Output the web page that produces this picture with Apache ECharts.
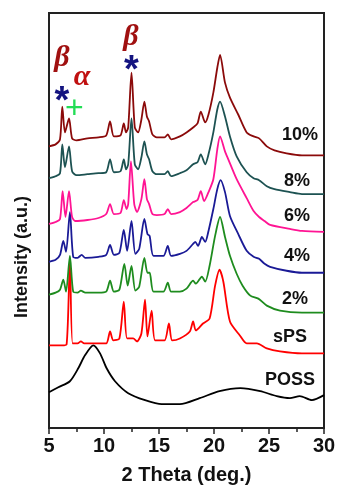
<!DOCTYPE html>
<html>
<head>
<meta charset="utf-8">
<script src="https://cdn.jsdelivr.net/npm/echarts@6/dist/echarts.min.js"></script>
<style>
  html, body { margin: 0; padding: 0; background: #fff; }
  #chart { width: 339px; height: 490px; }
</style>
</head>
<body>
<div id="chart"></div>
<script>
// sample names, colours, and where their labels sit (2θ, intensity)
const samples = ['POSS', 'sPS', '2%', '4%', '6%', '8%', '10%'];
const colors = ['#000000', '#ff0000', '#1e8c1e', '#1a1a96', '#ff1493', '#1d5252', '#8b0a0a'];
const labelPos = [[26.9, 48], [26.9, 91], [27.36, 130], [27.55, 173], [27.55, 213], [27.55, 248], [27.82, 294]];

// XRD patterns, [2θ, intensity (a.u., stacked)]
const poss = [
  [5.0, 36], [5.85, 41], [6.9, 47], [7.66, 60], [8.27, 73], [9.03, 83], [9.64, 75], [10.24, 60],
  [11.0, 47], [12.2, 35], [13.73, 28], [15.25, 24], [16.9, 24], [18.7, 30], [20.5, 37], [22.4, 40],
  [24.2, 37], [25.7, 32], [26.9, 30], [27.8, 32], [28.9, 28], [30, 33]
];
const sps = [
  [5.0, 83], [6.15, 83], [6.6, 84], [6.9, 168], [7.15, 85], [7.6, 85], [7.9, 87], [8.2, 85],
  [9.2, 85], [10.2, 85], [10.55, 97], [10.85, 88], [11.4, 90], [11.8, 127], [12.1, 90], [12.65, 90],
  [13.0, 87], [13.4, 95], [13.73, 129], [13.95, 92], [14.33, 118], [14.65, 88], [15.5, 88], [15.9, 105],
  [16.2, 88], [16.9, 90], [17.8, 97], [18.1, 107], [18.35, 98], [19.0, 105], [19.6, 110], [20.1, 143],
  [20.5, 159], [20.85, 147], [21.45, 107], [22.35, 93], [22.97, 85], [23.9, 85], [24.8, 80], [26.0, 77],
  [28, 75], [30, 75]
];
const p2 = [
  [5.0, 134], [5.6, 136], [6.0, 139], [6.3, 149], [6.55, 137], [6.9, 173], [7.2, 137], [7.6, 136],
  [7.9, 138], [8.3, 136], [9.5, 136], [10.2, 137], [10.55, 148], [10.9, 137], [11.4, 139], [11.85, 165],
  [12.15, 143], [12.5, 163], [12.85, 138], [13.2, 142], [13.67, 171], [13.95, 156], [14.15, 156], [14.5, 137],
  [15.4, 137], [15.8, 146], [16.1, 137], [16.9, 137], [17.5, 140], [18.1, 148], [18.35, 145], [18.9, 152],
  [19.2, 147], [19.6, 163], [20.1, 193], [20.55, 212], [21.0, 192], [21.45, 173], [22.06, 155], [22.6, 143],
  [23.3, 133], [24.03, 130], [24.8, 123], [26.0, 118], [28, 116], [30, 116]
];
const p4 = [
  [5.0, 167], [5.6, 169], [6.0, 174], [6.3, 188], [6.55, 177], [6.9, 217], [7.2, 172], [7.6, 171],
  [7.97, 174], [8.3, 171], [9.5, 172], [10.2, 174], [10.55, 184], [10.9, 174], [11.4, 176], [11.8, 199],
  [12.1, 178], [12.5, 208], [12.85, 175], [13.2, 180], [13.67, 210], [13.95, 195], [14.15, 193], [14.5, 173],
  [15.4, 173], [15.8, 183], [16.1, 173], [16.9, 175], [17.5, 178], [18.1, 185], [18.3, 187], [18.55, 183],
  [18.9, 192], [19.2, 187], [19.5, 198], [19.94, 220], [20.3, 240], [20.6, 249], [21.0, 237], [21.45, 213],
  [22.2, 195], [22.97, 178], [23.6, 172], [24.1, 170], [24.6, 165], [25.1, 162], [26.6, 158], [28, 156],
  [30, 156]
];
const p6 = [
  [5.0, 205], [5.6, 207], [6.0, 210], [6.24, 238], [6.5, 212], [6.82, 238], [7.1, 212], [7.4, 208],
  [8.5, 209], [9.5, 211], [10.2, 215], [10.55, 225], [10.9, 215], [11.5, 216], [11.8, 229], [12.05, 220],
  [12.2, 225], [12.45, 268], [12.75, 225], [13.0, 217], [13.4, 230], [13.67, 250], [13.9, 230], [14.1, 225],
  [14.4, 215], [14.8, 214], [15.5, 215], [15.8, 220], [16.1, 215], [16.9, 217], [17.5, 221], [18.1, 227],
  [18.5, 229], [18.8, 238], [19.1, 228], [19.5, 237], [19.94, 250], [20.3, 280], [20.55, 293], [21.0, 278],
  [21.3, 270], [22.06, 250], [22.97, 231], [23.6, 218], [24.1, 212], [24.6, 208], [25.1, 204], [26.9, 200],
  [28, 198], [30, 197]
];
const p8 = [
  [5.0, 251], [5.6, 253], [6.0, 256], [6.21, 285], [6.45, 262], [6.82, 283], [7.1, 258], [7.5, 254],
  [8.5, 255], [9.5, 256], [10.2, 257], [10.55, 270], [10.9, 257], [11.5, 258], [11.8, 270], [12.0, 260],
  [12.2, 265], [12.5, 311], [12.8, 265], [13.1, 260], [13.4, 272], [13.67, 288], [13.9, 275], [14.1, 270],
  [14.4, 258], [14.8, 255], [15.5, 255], [15.8, 258], [16.1, 253], [16.9, 256], [17.5, 259], [18.1, 265],
  [18.5, 267], [18.8, 275], [19.2, 265], [19.5, 275], [19.94, 297], [20.3, 320], [20.55, 328], [21.0, 313],
  [21.45, 293], [22.06, 273], [22.97, 257], [23.6, 251], [24.1, 249], [24.8, 243], [25.5, 240], [26.9, 237],
  [28, 235], [30, 235]
];
const p10 = [
  [5.0, 283], [5.6, 285], [6.0, 290], [6.21, 323], [6.45, 297], [6.82, 311], [7.1, 291], [7.5, 289],
  [8.5, 291], [9.5, 292], [10.2, 294], [10.55, 308], [10.9, 293], [11.5, 294], [11.8, 306], [12.0, 297],
  [12.2, 302], [12.5, 357], [12.8, 302], [13.1, 297], [13.4, 310], [13.67, 328], [13.9, 313], [14.1, 308],
  [14.4, 295], [14.8, 292], [15.5, 292], [15.8, 295], [16.1, 290], [16.9, 293], [17.5, 297], [18.1, 302],
  [18.5, 306], [18.8, 318], [19.2, 307], [19.5, 315], [19.94, 337], [20.3, 362], [20.55, 375], [21.0, 347],
  [21.45, 332], [22.2, 315], [22.97, 297], [23.6, 293], [24.1, 291], [24.8, 283], [25.5, 279], [26.6, 276],
  [28, 274], [30, 274]
];
const patterns = [poss, sps, p2, p4, p6, p8, p10];

// phase markers above the 10% pattern: [text, 2θ, intensity, colour, font]
const greek = 'italic bold 30px "Liberation Serif", "Times New Roman", serif';
const markers = [
  ['β', 6.18, 372, '#a01010', greek],
  ['α', 8.0, 352, '#c01010', greek],
  ['β', 12.45, 393, '#a01010', greek],
  ['*', 6.18, 327, '#141480', 'bold 38px "Liberation Sans", Arial, sans-serif'],
  ['*', 12.5, 358, '#141480', 'bold 38px "Liberation Sans", Arial, sans-serif'],
  ['+', 7.3, 320, '#22dd55', '32px "Liberation Sans", Arial, sans-serif']
];

const chart = echarts.init(document.getElementById('chart'));
const font = '"Liberation Sans", Arial, sans-serif';

chart.setOption({
  animation: false,
  grid: {
    left: 49, right: 15, top: 13, bottom: 60,
    show: true, borderColor: '#222', borderWidth: 2
  },
  xAxis: {
    type: 'value', min: 5, max: 30, interval: 5,
    name: '2 Theta (deg.)', nameLocation: 'middle', nameGap: 37,
    nameTextStyle: { fontFamily: font, fontWeight: 'bold', fontSize: 20, color: '#111' },
    axisLine: { lineStyle: { color: '#222', width: 2 } },
    axisTick: { length: 6, lineStyle: { color: '#222', width: 1.5 } },
    minorTick: { show: true, splitNumber: 2, length: 4, lineStyle: { color: '#222', width: 1.5 } },
    axisLabel: { fontFamily: font, fontWeight: 'bold', fontSize: 20, color: '#111', margin: 8 },
    splitLine: { show: false }
  },
  yAxis: {
    type: 'value', min: 0, max: 417, show: false
  },
  series: patterns.map((d, i) => ({
    name: samples[i],
    type: 'line',
    data: d,
    symbol: 'none',
    smooth: 0.25,
    lineStyle: { color: colors[i], width: 1.8 },
    z: 2 + i
  }))
});

const graphics = [];
samples.forEach((s, i) => {
  const p = chart.convertToPixel({ gridIndex: 0 }, labelPos[i]);
  graphics.push({
    type: 'text', x: p[0], y: p[1],
    style: { text: s, fill: '#111', font: 'bold 18px ' + font, align: 'center', verticalAlign: 'middle' }
  });
});
markers.forEach(m => {
  const p = chart.convertToPixel({ gridIndex: 0 }, [m[1], m[2]]);
  graphics.push({
    type: 'text', x: p[0], y: p[1],
    style: { text: m[0], fill: m[3], font: m[4], align: 'center', verticalAlign: 'middle' }
  });
});
graphics.push({
  type: 'text', x: 22, y: 257, rotation: Math.PI / 2,
  style: { text: 'Intensity (a.u.)', fill: '#111', font: 'bold 18px ' + font, align: 'center', verticalAlign: 'middle' }
});
chart.setOption({ graphic: graphics });
</script>
</body>
</html>
